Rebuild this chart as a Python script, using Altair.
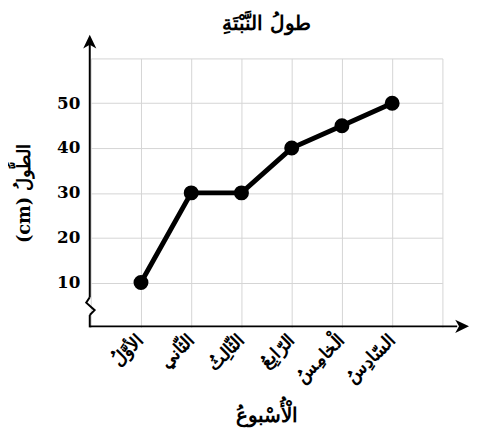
import altair as alt
import pandas as pd

# ---- data ----
weeks = ["الأوَّلُ", "الثّاني", "الثّالِثُ", "الرّابِعُ", "الْخامِسُ", "السّادِسُ"]
heights = [10, 30, 30, 40, 45, 50]
y_ticks = [10, 20, 30, 40, 50, 60]
x_ticks = [0, 1, 2, 3, 4, 5, 6, 7]

title_text = "طولُ النَّبْتَةِ"
x_title = "الْأُسْبوعُ"
y_title = "(cm) الطُّولُ"

df = pd.DataFrame({"idx": list(range(1, len(weeks) + 1)), "week": weeks, "height": heights})

W, H = 357, 273
FONT = "DejaVu Serif"

label_arr = "[" + ",".join("'" + w + "'" for w in weeks) + "]"
x_label_expr = f"(datum.value >= 1 && datum.value <= {len(weeks)}) ? {label_arr}[datum.value - 1] : ''"

x_enc = alt.X(
    "idx:Q",
    scale=alt.Scale(domain=[0, 7], nice=False, zero=False),
    axis=alt.Axis(
        values=x_ticks, labelExpr=x_label_expr, title=x_title,
        domain=False, ticks=False, grid=True, gridColor="#d4d4d4", gridWidth=1,
        labelAngle=-45, labelAlign="right", labelBaseline="middle", labelPadding=10,
        labelFont=FONT, labelFontSize=18, labelFontWeight="bold", labelColor="black",
        titleFont=FONT, titleFontSize=20, titleFontWeight="bold", titleColor="black",
        titleX=W / 2, titleY=90, titleBaseline="middle", titleAlign="center",
        labelOverlap=False,
    ),
)
y_enc = alt.Y(
    "height:Q",
    scale=alt.Scale(domain=[0, 60], nice=False),
    axis=alt.Axis(
        values=y_ticks, labelExpr="datum.value < 60 ? datum.label : ''", title=y_title,
        domain=False, ticks=False, grid=True, gridColor="#d4d4d4", gridWidth=1,
        labelPadding=11, labelFont=FONT, labelFontSize=17, labelFontWeight="bold",
        labelColor="black",
        titleFont=FONT, titleFontSize=18, titleFontWeight="bold", titleColor="black",
        titleX=-67, titleY=H / 2, titleBaseline="middle", titleAlign="center", titleAngle=-90,
    ),
)

base = alt.Chart(df)
line = base.mark_line(color="black", strokeWidth=5).encode(x=x_enc, y=y_enc)
pts = base.mark_point(filled=True, color="black", opacity=1, size=230).encode(x="idx:Q", y="height:Q")

one = alt.Data(values=[{}])
ax_col = "black"
x_axis_line = alt.Chart(one).mark_rule(color=ax_col, strokeWidth=2).encode(
    x=alt.value(-1), x2=alt.value(372), y=alt.value(272))
y_axis_low = alt.Chart(one).mark_rule(color=ax_col, strokeWidth=2).encode(
    x=alt.value(-1), y=alt.value(273), y2=alt.value(260.5))
y_axis_high = alt.Chart(one).mark_rule(color=ax_col, strokeWidth=2).encode(
    x=alt.value(-1), y=alt.value(242.5), y2=alt.value(-16))
zigzag = alt.Chart(one).mark_point(
    shape="M0,1 L0.55,0.45 L-0.4,-0.4 L0,-1", filled=False, stroke=ax_col,
    strokeWidth=2, size=324, opacity=1).encode(x=alt.value(-1), y=alt.value(251.5))
x_arrow = alt.Chart(one).mark_point(
    shape="M1,0 L-1,-0.95 L-0.45,0 L-1,0.95 Z", filled=True, color=ax_col,
    size=196, opacity=1).encode(x=alt.value(377), y=alt.value(272))
y_arrow = alt.Chart(one).mark_point(
    shape="M0,-1 L-0.95,1 L0,0.45 L0.95,1 Z", filled=True, color=ax_col,
    size=196, opacity=1).encode(x=alt.value(-1), y=alt.value(-17))

chart = alt.layer(line, pts, x_axis_line, y_axis_low, y_axis_high, zigzag, x_arrow, y_arrow).properties(
    width=W, height=H,
    title=alt.TitleParams(title_text, font=FONT, fontSize=20, fontWeight="bold", color="black",
                          anchor="middle", offset=1),
    autosize=alt.AutoSizeParams(type="none"),
    padding={"left": 84, "top": 48, "right": 27, "bottom": 100},
).configure_view(stroke=None)

chart.save("out.html", embed_options={"renderer": "svg", "actions": False})
